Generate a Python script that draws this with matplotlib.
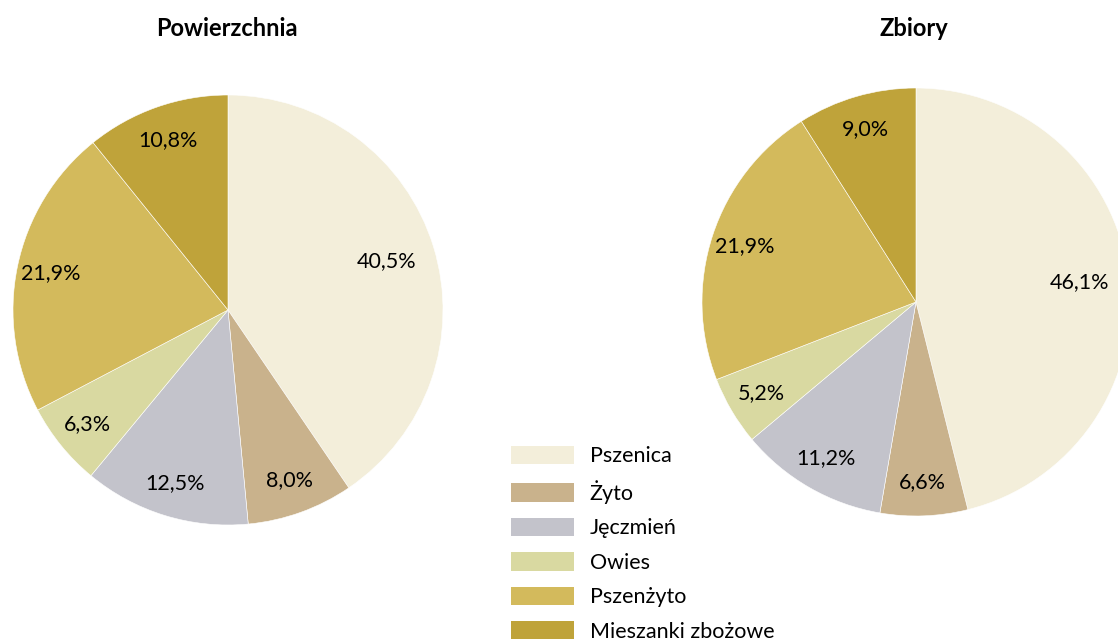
import matplotlib
matplotlib.use("Agg")
import numpy as np
import matplotlib.pyplot as plt
from matplotlib.patches import Patch

# crop shares, percent
categories = ["Pszenica", "Żyto", "Jęczmień", "Owies", "Pszenżyto", "Mieszanki zbożowe"]
area_pct = [40.5, 8.0, 12.5, 6.3, 21.9, 10.8]
harvest_pct = [46.1, 6.6, 11.2, 5.2, 21.9, 9.0]
titles = ["Powierzchnia", "Zbiory"]

COLORS = ["#F3EEDA", "#C9B28C", "#C3C3CB", "#D9D9A1", "#D3BA5C", "#BFA33A"]
W, H = 1118, 642
FONTSIZE = 15.5
TITLESIZE = 17

plt.rcParams["font.family"] = ["Lato", "DejaVu Sans"]

fig = plt.figure(figsize=(W / 100, H / 100), dpi=100)


def px_axes(cx, cy, r):
    """axes box (in pixel coords, y from top) for a pie centred at cx, cy"""
    ax = fig.add_axes([(cx - r) / W, (H - cy - r) / H, 2 * r / W, 2 * r / H])
    return ax


def fmt(v):
    return "{:.1f}%".format(v).replace(".", ",")


def draw_pie(ax, values):
    wedges, texts = ax.pie(values, colors=COLORS, startangle=90, counterclock=False,
                           radius=1, frame=True,
                           wedgeprops=dict(linewidth=0.4, edgecolor="white"))
    # labels along the wedge bisector; big wedges get their label a bit further in
    for w, v in zip(wedges, values):
        ang = np.deg2rad((w.theta1 + w.theta2) / 2)
        dist = 0.77 if v > 30 else 0.84
        ax.text(dist * np.cos(ang), dist * np.sin(ang), fmt(v),
                ha="center", va="center", fontsize=FONTSIZE)
    ax.set_xlim(-1, 1)
    ax.set_ylim(-1, 1)
    ax.axis("off")


ax1 = px_axes(228, 310, 215)
draw_pie(ax1, area_pct)
ax2 = px_axes(916, 302, 214)
draw_pie(ax2, harvest_pct)

fig.text(227 / W, 1 - 29 / H, titles[0], ha="center", va="center",
         fontsize=TITLESIZE, fontweight="bold")
fig.text(914 / W, 1 - 29 / H, titles[1], ha="center", va="center",
         fontsize=TITLESIZE, fontweight="bold")

handles = [Patch(facecolor=c, edgecolor="none") for c in COLORS]
fig.legend(handles, categories, loc="upper left",
           bbox_to_anchor=(502 / W, 1 - 437 / H), frameon=False,
           fontsize=FONTSIZE, handlelength=2.93, handleheight=0.93,
           handletextpad=0.75, labelspacing=0.645, borderaxespad=0)

fig.savefig("out.png", dpi=100)
